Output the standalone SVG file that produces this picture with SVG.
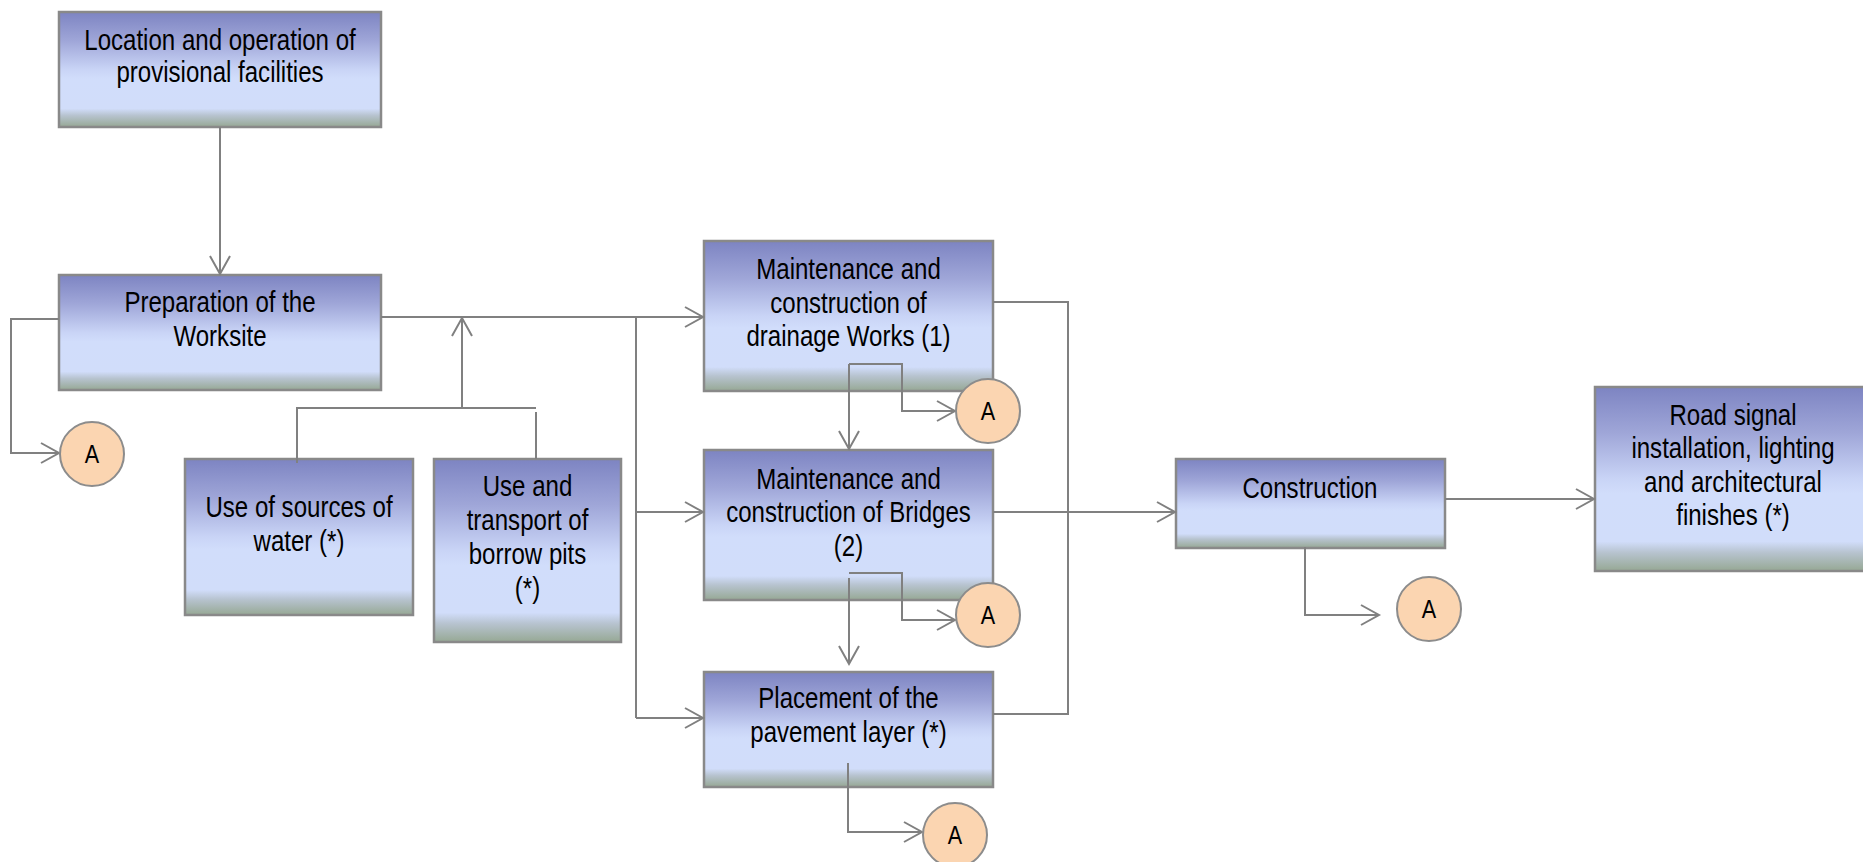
<svg xmlns="http://www.w3.org/2000/svg" width="1863" height="862" viewBox="0 0 1863 862">
<style>
.box{fill:url(#g);stroke:#898989;stroke-width:2.5}
.t{font-family:"Liberation Sans",Arial,sans-serif;font-size:29px;fill:#000;text-anchor:middle}
.c{fill:#FBD5B1;stroke:#8C8C8C;stroke-width:2}
.ct{font-family:"Liberation Sans",Arial,sans-serif;font-size:26px;fill:#000;text-anchor:middle}
.ln{fill:none;stroke:#808080;stroke-width:2}
.ar{marker-end:url(#arr)}
</style>
<defs>
<linearGradient id="g" x1="0" y1="0" x2="0" y2="1">
<stop offset="0" stop-color="#7D84C2"/>
<stop offset="0.25" stop-color="#9FA6D8"/>
<stop offset="0.5" stop-color="#C9D4F6"/>
<stop offset="0.58" stop-color="#D1DDFB"/>
<stop offset="0.84" stop-color="#D1DDFA"/>
<stop offset="0.9" stop-color="#B7C3CF"/>
<stop offset="1" stop-color="#96A894"/>
</linearGradient>
<marker id="arr" markerUnits="userSpaceOnUse" markerWidth="22" markerHeight="24" refX="19" refY="11" orient="auto" viewBox="0 0 22 24">
<path d="M1,1 L19,11 L1,21" fill="none" stroke="#808080" stroke-width="2"/>
</marker>
</defs>

<g id="n_location">
<rect class="box" x="59" y="12" width="322" height="115"/>
<g transform="translate(220,0) scale(0.83,1)">
<text class="t" x="0" y="50">Location and operation of</text>
<text class="t" x="0" y="82">provisional facilities</text>
</g>
</g>
<g id="n_preparation">
<rect class="box" x="59" y="275" width="322" height="115"/>
<g transform="translate(220,0) scale(0.83,1)">
<text class="t" x="0" y="312">Preparation of the</text>
<text class="t" x="0" y="346">Worksite</text>
</g>
</g>
<g id="n_water">
<rect class="box" x="185" y="459" width="228" height="156"/>
<g transform="translate(299,0) scale(0.83,1)">
<text class="t" x="0" y="517">Use of sources of</text>
<text class="t" x="0" y="551">water (*)</text>
</g>
</g>
<g id="n_borrow">
<rect class="box" x="434" y="459" width="187" height="183"/>
<g transform="translate(527.5,0) scale(0.83,1)">
<text class="t" x="0" y="496">Use and</text>
<text class="t" x="0" y="530">transport of</text>
<text class="t" x="0" y="564">borrow pits</text>
<text class="t" x="0" y="598">(*)</text>
</g>
</g>
<g id="n_drainage">
<rect class="box" x="704" y="241" width="289" height="150"/>
<g transform="translate(848.5,0) scale(0.83,1)">
<text class="t" x="0" y="279">Maintenance and</text>
<text class="t" x="0" y="313">construction of</text>
<text class="t" x="0" y="346">drainage Works (1)</text>
</g>
</g>
<g id="n_bridges">
<rect class="box" x="704" y="450" width="289" height="150"/>
<g transform="translate(848.5,0) scale(0.83,1)">
<text class="t" x="0" y="489">Maintenance and</text>
<text class="t" x="0" y="522">construction of Bridges</text>
<text class="t" x="0" y="556">(2)</text>
</g>
</g>
<g id="n_pavement">
<rect class="box" x="704" y="672" width="289" height="115"/>
<g transform="translate(848.5,0) scale(0.83,1)">
<text class="t" x="0" y="708">Placement of the</text>
<text class="t" x="0" y="742">pavement layer (*)</text>
</g>
</g>
<g id="n_construction">
<rect class="box" x="1176" y="459" width="269" height="89"/>
<g transform="translate(1310,0) scale(0.83,1)">
<text class="t" x="0" y="498">Construction</text>
</g>
</g>
<g id="n_road">
<rect class="box" x="1595" y="387" width="276" height="184"/>
<g transform="translate(1733,0) scale(0.83,1)">
<text class="t" x="0" y="425">Road signal</text>
<text class="t" x="0" y="458">installation, lighting</text>
<text class="t" x="0" y="492">and architectural</text>
<text class="t" x="0" y="525">finishes (*)</text>
</g>
</g>

<g id="connectors">
<polyline class="ln ar" points="220,127 220,274"/>
<polyline class="ln ar" points="59,319 11,319 11,453 59,453"/>
<polyline class="ln ar" points="381,317 703,317"/>
<polyline class="ln ar" points="462,408 462,318"/>
<polyline class="ln" points="297,463 297,408 536,408"/>
<polyline class="ln" points="536,412 536,459"/>
<polyline class="ln" points="636,317 636,718"/>
<polyline class="ln ar" points="636,512 703,512"/>
<polyline class="ln ar" points="636,718 703,718"/>
<polyline class="ln ar" points="849,364 849,449"/>
<polyline class="ln ar" points="849,364 902,364 902,411 955,411"/>
<polyline class="ln ar" points="849,578 849,664"/>
<polyline class="ln ar" points="849,573 902,573 902,620 955,620"/>
<polyline class="ln ar" points="848,763 848,832 922,832"/>
<polyline class="ln" points="993,302 1068,302 1068,714 993,714"/>
<polyline class="ln ar" points="993,512 1175,512"/>
<polyline class="ln ar" points="1445,499 1594,499"/>
<polyline class="ln ar" points="1305,547 1305,615 1379,615"/>
</g>

<g id="a0"><circle class="c" cx="92" cy="454" r="32"/><text class="ct" transform="translate(92,0) scale(0.83,1)" x="0" y="463">A</text></g>
<g id="a1"><circle class="c" cx="988" cy="411" r="32"/><text class="ct" transform="translate(988,0) scale(0.83,1)" x="0" y="420">A</text></g>
<g id="a2"><circle class="c" cx="988" cy="615" r="32"/><text class="ct" transform="translate(988,0) scale(0.83,1)" x="0" y="624">A</text></g>
<g id="a3"><circle class="c" cx="955" cy="835" r="32"/><text class="ct" transform="translate(955,0) scale(0.83,1)" x="0" y="844">A</text></g>
<g id="a4"><circle class="c" cx="1429" cy="609" r="32"/><text class="ct" transform="translate(1429,0) scale(0.83,1)" x="0" y="618">A</text></g>
</svg>
